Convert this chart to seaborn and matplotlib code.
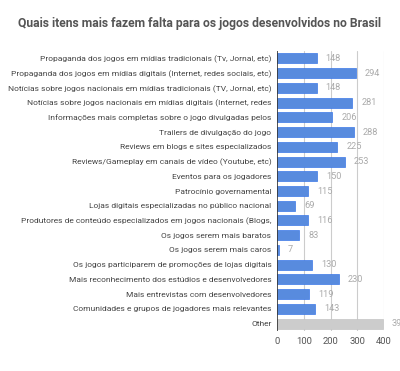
import numpy as np
import pandas as pd
import matplotlib
matplotlib.use("Agg")
import matplotlib.pyplot as plt
import seaborn as sns

# Items (labels are truncated as in the original chart)
items = [
    "Propaganda dos jogos em mídias tradicionais (Tv, Jornal, etc)",
    "Propaganda dos jogos em mídias digitais (Internet, redes sociais, etc)",
    "Notícias sobre jogos nacionais em mídias tradicionais (TV, Jornal, etc)",
    "Notícias sobre jogos nacionais em mídias digitais (Internet, redes",
    "Informações mais completas sobre o jogo divulgadas pelos",
    "Trailers de divulgação do jogo",
    "Reviews em blogs e sites especializados",
    "Reviews/Gameplay em canais de vídeo (Youtube, etc)",
    "Eventos para os jogadores",
    "Patrocínio governamental",
    "Lojas digitais especializadas no público nacional",
    "Produtores de conteúdo especializados em jogos nacionais (Blogs,",
    "Os jogos serem mais baratos",
    "Os jogos serem mais caros",
    "Os jogos participarem de promoções de lojas digitais",
    "Mais reconhecimento dos estúdios e desenvolvedores",
    "Mais entrevistas com desenvolvedores",
    "Comunidades e grupos de jogadores mais relevantes",
    "Other",
]
votes = [148, 294, 148, 281, 206, 288, 225, 253, 150, 115,
         69, 116, 83, 7, 130, 230, 119, 143, 395]
x_ticks = [0, 100, 200, 300, 400]

df = pd.DataFrame({"item": items, "votes": votes})
colors = ["#4285f4"] * (len(items) - 1) + ["#cccccc"]

sns.set_style("white")
plt.rcParams["font.family"] = ["Roboto", "DejaVu Sans"]

fig = plt.figure(figsize=(4.0, 3.71), dpi=100)
ax = fig.add_axes([277 / 400, 1 - 331 / 371, (384 - 277) / 400, (331 - 51) / 371])

sns.barplot(data=df, x="votes", y="item", hue="item", palette=colors,
            legend=False, width=0.68, ax=ax, zorder=3)
for p, c in zip(ax.patches, colors):
    p.set_edgecolor("#3b78e7" if c != "#cccccc" else "#c4c4c4")
    p.set_linewidth(0.5)

ax.set_xlim(0, 400)
ax.set_ylim(len(items) - 0.5, -0.5)
ax.set_xticks(x_ticks)
ax.set_xticklabels([str(t) for t in x_ticks], fontsize=6.8, color="#555555")
ax.set_yticks(range(len(items)))
ax.set_yticklabels(items, fontsize=6.0, color="#444444")
ax.tick_params(axis="both", length=0, pad=4)
ax.set_xlabel("")
ax.set_ylabel("")

for t in x_ticks[1:]:
    ax.axvline(t, color="#cccccc", lw=0.8, zorder=1)
ax.axvline(0, color="#333333", lw=1.2, zorder=4)

for s in ax.spines.values():
    s.set_visible(False)

for i, v in enumerate(votes):
    ax.annotate(str(v), (v, i), xytext=(6.5, 0), textcoords="offset points",
                va="center", ha="left", fontsize=6.6, color="#aaaaaa",
                annotation_clip=False)

fig.text(18 / 400, 1 - 24 / 371,
         "Quais itens mais fazem falta para os jogos desenvolvidos no Brasil",
         fontsize=8.7, fontweight="bold", color="#555555", va="center", ha="left")

fig.savefig("out.png", dpi=100)
